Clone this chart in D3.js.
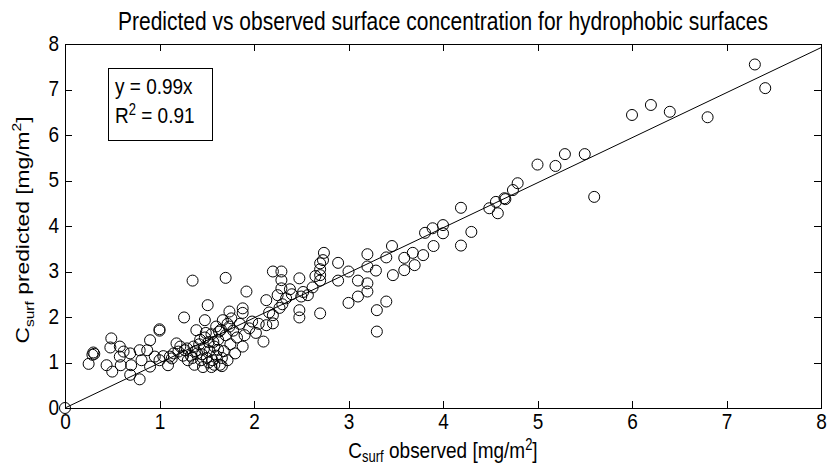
<!DOCTYPE html>
<html>
<head>
<meta charset="UTF-8" />
<title>Predicted vs observed surface concentration</title>
<script src="https://d3js.org/d3.v7.min.js"></script>
<style>
  body { margin: 0; background: #fff; }
  svg { display: block; background: #fff; font-family: "Liberation Sans", Arial, sans-serif; }
  .axis path, .axis line { stroke: #000; stroke-width: 1px; shape-rendering: crispEdges; }
  .axis text { font-size: 19px; fill: #000; font-family: "Liberation Sans", Arial, sans-serif; }
  .dot { fill: none; stroke: #000; stroke-width: 1px; }
</style>
</head>
<body>
<svg width="828" height="468"></svg>
<script>
  // observed / predicted surface concentration (mg/m2)
  const observed = [
    0.00, 0.25, 0.30, 0.31, 0.29, 0.44, 0.48, 0.49, 0.50, 0.58,
    0.58, 0.59, 0.62, 0.69, 0.70, 0.69, 0.79, 0.79, 0.81, 0.87,
    0.90, 0.90, 0.95, 1.00, 1.00, 1.00, 1.04, 1.09, 1.11, 1.13,
    1.18, 1.20, 1.26, 1.27, 1.29, 1.30, 1.35, 1.36, 1.39, 1.33,
    1.37, 1.40, 1.42, 1.44, 1.46, 1.47, 1.48, 1.48, 1.50, 1.51,
    1.52, 1.53, 1.55, 1.55, 1.56, 1.58, 1.60, 1.60, 1.62, 1.63,
    1.64, 1.66, 1.67, 1.68, 1.70, 1.70, 1.72, 1.74, 1.74, 1.75,
    1.76, 1.78, 1.80, 1.82, 1.85, 1.88, 1.88, 1.88, 1.90, 1.92,
    1.95, 1.98, 2.02, 2.05, 2.10, 2.13, 2.13, 2.20, 2.29, 2.29,
    2.29, 2.34, 2.25, 2.20, 2.20, 2.38, 2.48, 2.48, 2.48, 2.57,
    2.70, 2.70, 2.70, 2.70, 2.70, 2.74, 2.73, 2.89, 2.89, 3.00,
    3.00, 3.10, 3.10, 3.20, 3.20, 3.20, 3.20, 3.29, 3.30, 3.30,
    3.40, 3.40, 3.46, 3.47, 3.59, 3.59, 3.68, 3.70, 3.79, 3.81,
    3.89, 3.90, 4.00, 4.00, 4.19, 4.19, 4.30, 4.49, 4.56, 4.58,
    4.65, 4.66, 4.74, 4.79, 5.00, 5.19, 5.29, 5.50, 5.60, 6.00,
    6.20, 6.40, 6.80, 7.30, 7.41,
    1.38, 1.45, 1.52, 1.57, 1.62, 1.66, 1.58, 1.49, 1.43, 1.35,
    1.25, 1.22, 1.15, 1.65, 1.72, 2.30, 2.40, 2.52, 2.62, 2.65,
    2.50, 2.27, 2.16
  ];
  const predicted = [
    0.00, 0.97, 1.22, 1.19, 1.17, 0.94, 1.33, 1.53, 0.80, 1.35,
    1.13, 0.94, 1.24, 1.20, 0.94, 0.73, 0.63, 1.27, 1.05, 1.27,
    1.49, 0.91, 1.13, 1.05, 1.73, 1.70, 1.14, 0.94, 1.13, 1.09,
    1.42, 1.24, 1.99, 1.27, 1.31, 1.05, 2.80, 1.35, 1.71, 1.15,
    0.95, 1.20, 1.40, 1.05, 0.90, 1.30, 1.55, 1.93, 1.10, 2.26,
    1.45, 1.25, 0.90, 1.62, 1.05, 1.35, 1.79, 1.15, 1.50, 1.68,
    0.95, 0.92, 1.93, 1.25, 1.60, 2.86, 1.05, 2.12, 1.79, 1.40,
    1.97, 1.70, 1.20, 1.55, 1.85, 2.19, 2.09, 1.35, 1.60, 2.56,
    1.75, 1.90, 1.65, 1.85, 1.46, 2.37, 1.82, 3.00, 3.00, 2.81,
    2.63, 2.41, 2.48, 2.04, 1.86, 2.61, 2.85, 2.15, 1.99, 2.48,
    3.18, 3.05, 2.92, 2.80, 2.08, 3.41, 3.25, 3.19, 2.80, 3.00,
    2.31, 2.80, 2.45, 3.38, 3.11, 2.74, 2.56, 3.02, 2.15, 1.68,
    3.31, 2.34, 3.56, 2.92, 3.30, 3.03, 3.41, 3.14, 3.36, 3.85,
    3.95, 3.56, 4.02, 3.84, 4.40, 3.57, 3.87, 4.39, 4.53, 4.28,
    4.61, 4.59, 4.79, 4.94, 5.35, 5.32, 5.58, 5.58, 4.64, 6.44,
    6.66, 6.51, 6.39, 7.55, 7.03,
    1.25, 1.18, 1.00, 1.45, 1.28, 1.10, 0.95, 1.65, 1.50, 1.10,
    1.15, 1.35, 1.20, 1.72, 1.85, 2.28, 2.50, 2.55, 2.65, 2.90,
    2.45, 2.20, 2.10
  ];

  const ticks = [0, 1, 2, 3, 4, 5, 6, 7, 8];
  const fitSlope = 0.99;
  const fitR2 = 0.91;
  const fitRange = [0, 8];

  const titleText = "Predicted vs observed surface concentration for hydrophobic surfaces";

  const svg = d3.select("svg");
  const m = {left: 65, right: 821, top: 44, bottom: 408};
  const sy = 1.2; // the source figure's text is drawn tall and narrow

  const x = d3.scaleLinear().domain([0, 8]).range([m.left, m.right]);
  const y = d3.scaleLinear().domain([0, 8]).range([m.bottom, m.top]);

  // axes, matlab style box with inward ticks
  svg.append("g").attr("class", "axis")
    .attr("transform", `translate(0,${m.bottom})`)
    .call(d3.axisBottom(x).tickValues(ticks).tickSizeInner(-7).tickSizeOuter(0).tickPadding(4))
    .selectAll("text").attr("transform", `scale(1,${sy})`);
  svg.append("g").attr("class", "axis")
    .attr("transform", `translate(0,${m.top})`)
    .call(d3.axisTop(x).tickValues(ticks).tickSizeInner(-7).tickSizeOuter(0).tickFormat(""));
  svg.append("g").attr("class", "axis")
    .attr("transform", `translate(${m.left},0)`)
    .call(d3.axisLeft(y).tickValues(ticks).tickSizeInner(-7).tickSizeOuter(0).tickPadding(6))
    .selectAll("text").attr("transform", `scale(1,${sy})`).attr("dy", "0.27em");
  svg.append("g").attr("class", "axis")
    .attr("transform", `translate(${m.right},0)`)
    .call(d3.axisRight(y).tickValues(ticks).tickSizeInner(-7).tickSizeOuter(0).tickFormat(""));

  // fitted line
  const line = d3.line().x(d => x(d)).y(d => y(fitSlope * d));
  svg.append("path")
    .datum(fitRange)
    .attr("d", line)
    .attr("fill", "none")
    .attr("stroke", "#000")
    .attr("stroke-width", 1);

  // points
  svg.selectAll(".dot")
    .data(observed.map((v, i) => [v, predicted[i]]))
    .enter()
    .append("circle")
    .attr("class", "dot")
    .attr("cx", d => x(d[0]))
    .attr("cy", d => y(d[1]))
    .attr("r", 5.5);

  // title
  svg.append("g")
    .attr("transform", `translate(${(m.left + m.right) / 2},30) scale(1,${sy})`)
    .append("text")
    .attr("text-anchor", "middle")
    .style("font-size", "21px")
    .text(titleText);

  // x label
  const xl = svg.append("g")
    .attr("transform", `translate(${(m.left + m.right) / 2},458) scale(1,${sy})`)
    .append("text")
    .attr("text-anchor", "middle")
    .style("font-size", "19px");
  xl.append("tspan").text("C");
  xl.append("tspan").attr("dy", 3).style("font-size", "13px").text("surf");
  xl.append("tspan").attr("dy", -3).text(" observed [mg/m");
  xl.append("tspan").attr("dy", -7).style("font-size", "13px").text("2");
  xl.append("tspan").attr("dy", 7).text("]");

  // y label
  const yl = svg.append("g")
    .attr("transform", `translate(29,${(m.top + m.bottom) / 2 + 4}) rotate(-90) scale(${sy},1)`)
    .append("text")
    .attr("text-anchor", "middle")
    .style("font-size", "19px");
  yl.append("tspan").text("C");
  yl.append("tspan").attr("dy", 5).style("font-size", "13px").text("surf");
  yl.append("tspan").attr("dy", -5).text(" predicted [mg/m");
  yl.append("tspan").attr("dy", -8).style("font-size", "13px").text("2");
  yl.append("tspan").attr("dy", 8).text("]");

  // equation box
  const box = svg.append("g").attr("transform", "translate(108,68)");
  box.append("rect")
    .attr("width", 104)
    .attr("height", 72)
    .attr("fill", "#fff")
    .attr("stroke", "#000")
    .attr("shape-rendering", "crispEdges");
  box.append("g")
    .attr("transform", `translate(7,26) scale(1,${sy})`)
    .append("text")
    .style("font-size", "19px")
    .text(`y = ${fitSlope}x`);
  const r2 = box.append("g")
    .attr("transform", `translate(7,55) scale(1,${sy})`)
    .append("text")
    .style("font-size", "19px");
  r2.append("tspan").text("R");
  r2.append("tspan").attr("dy", -7).style("font-size", "13px").text("2");
  r2.append("tspan").attr("dy", 7).text(` = ${fitR2}`);
</script>
</body>
</html>
